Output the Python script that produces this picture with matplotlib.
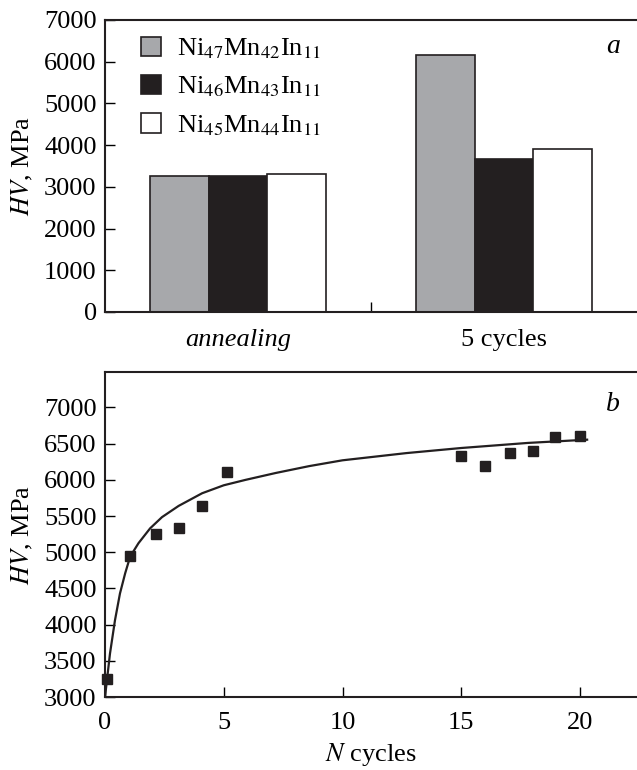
import numpy as np
import matplotlib
matplotlib.use('Agg')
import matplotlib.pyplot as plt

plt.rcParams['font.family'] = 'Liberation Serif'
plt.rcParams['mathtext.fontset'] = 'stix'
plt.rcParams['font.size'] = 19

# (a) dureté par alliage
categories = ['annealing', '5 cycles']
alloys = [r'Ni$_{47}$Mn$_{42}$In$_{11}$', r'Ni$_{46}$Mn$_{43}$In$_{11}$', r'Ni$_{45}$Mn$_{44}$In$_{11}$']
hv_ni47 = [3270, 6150]
hv_ni46 = [3250, 3670]
hv_ni45 = [3300, 3910]

# (b) dureté en fonction du nombre de cycles
n_cycles = [0.07, 1.06, 2.13, 3.1, 4.1, 5.14, 15, 16.02, 17.05, 18.0, 18.95, 20.0]
hv_cycles = [3250, 4945, 5250, 5340, 5645, 6115, 6325, 6195, 6370, 6405, 6590, 6600]

# courbe d'ajustement
fit_n = [0.0, 0.21, 0.42, 0.63, 0.85, 1.06, 1.41, 1.9, 2.4, 3.1, 4.09, 5.0, 5.92, 7.19,
         8.6, 10.0, 12.7, 15.0, 17.8, 20.3]
fit_hv = [3000, 3600, 4060, 4430, 4710, 4940, 5125, 5330, 5485, 5640, 5815, 5925, 6000, 6095,
          6190, 6270, 6370, 6440, 6510, 6555]

couleurs = ['#a7a8ab', '#231f20', 'white']

fig = plt.figure(figsize=(6.37, 7.7), dpi=100)
W, H = 637, 770

ax1 = fig.add_axes([105 / W, 1 - 312 / H, 1 - 105 / W, (312 - 20) / H])
ax2 = fig.add_axes([105 / W, 1 - 697 / H, 1 - 105 / W, (697 - 372) / H])

# --- panneau a ---
x = np.arange(1, len(categories) + 1)
largeur = 0.22
for i, (vals, c) in enumerate(zip([hv_ni47, hv_ni46, hv_ni45], couleurs)):
    ax1.bar(x + (i - 1) * largeur, vals, width=largeur, color=c, edgecolor='#231f20',
            linewidth=1.2, label=alloys[i])

ax1.set_xlim(0.5, 2.5)
ax1.set_ylim(0, 7000)
ax1.set_yticks(np.arange(0, 7001, 1000))
ax1.set_xticks([1.5])
ax1.set_xticklabels([''])
ax1.set_xticks(x, minor=True)
ax1.set_xticklabels(categories, minor=True)
ax1.get_xticklabels(minor=True)[0].set_style('italic')
ax1.tick_params(axis='x', which='minor', length=0, pad=12)
ax1.tick_params(axis='both', which='major', direction='in', length=7, width=1, pad=6)
ax1.legend(loc='upper left', bbox_to_anchor=(0.048, 0.98), frameon=False,
           handlelength=0.75, handleheight=0.75, labelspacing=0.52, handletextpad=0.62,
           borderaxespad=0)
ax1.text(0.955, 0.91, 'a', transform=ax1.transAxes, style='italic', ha='center', va='center',
         fontsize=20)

# --- panneau b ---
ax2.plot(fit_n, fit_hv, color='#231f20', linewidth=1.6)
ax2.plot(n_cycles, hv_cycles, 's', color='#231f20', markersize=7, clip_on=False)
ax2.set_xlim(0, 22.4)
ax2.set_ylim(3000, 7490)
ax2.set_xticks([0, 5, 10, 15, 20])
ax2.set_yticks(np.arange(3000, 7001, 500))
ax2.tick_params(axis='both', direction='in', length=7, width=1, pad=6)
ax2.tick_params(axis='x', pad=11)
ax2.set_xlabel(r'$N$ cycles', labelpad=5)
ax2.text(0.955, 0.9, 'b', transform=ax2.transAxes, style='italic', ha='center', va='center',
         fontsize=20)

for ax in (ax1, ax2):
    ax.spines['right'].set_visible(False)
    for s in ('left', 'top', 'bottom'):
        ax.spines[s].set_linewidth(1.5)
        ax.spines[s].set_color('#231f20')

fig.text(22 / W, 1 - 166 / H, r'$HV$, MPa', rotation=90, ha='center', va='center')
fig.text(22 / W, 1 - 535 / H, r'$HV$, MPa', rotation=90, ha='center', va='center')

fig.savefig('out.png', dpi=100)
